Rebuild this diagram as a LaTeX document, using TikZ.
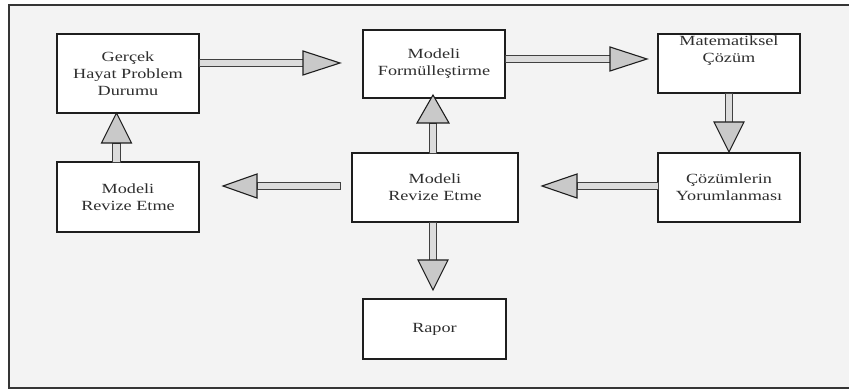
\documentclass[tikz,border=0pt]{standalone}
\usepackage{fontspec}
\setmainfont{Liberation Serif}[FakeStretch=1.3]
\usetikzlibrary{calc}

\definecolor{paper}{HTML}{F3F3F3}
\definecolor{ink}{HTML}{1E1E1E}
\definecolor{textink}{HTML}{2E2E2E}
\definecolor{headfill}{HTML}{C9C9C9}
\definecolor{shaftfill}{HTML}{DCDCDC}

\tikzset{
  stagefont/.style={text=textink, font=\fontsize{14}{17}\selectfont},
  stage/.style={draw=ink, line width=1.6pt, fill=white, inner sep=0pt,
    outer sep=0pt, align=center, stagefont},
  shaftline/.style={draw=ink!85, line width=0.9pt, fill=shaftfill},
  headline/.style={draw=ink, line width=1.1pt, fill=headfill, line join=miter},
}

% block arrow: #1 tail, #2 tip, #3 head length, #4 head half-width
\newcommand\blockarrow[4]{%
  \coordinate (ba-s) at #1;
  \coordinate (ba-t) at #2;
  \coordinate (ba-b) at ($(ba-t)!#3!(ba-s)$);
  \filldraw[shaftline] ($(ba-s)!3.8pt!90:(ba-b)$) -- ($(ba-b)!3.8pt!-90:(ba-s)$)
    -- ($(ba-b)!3.8pt!90:(ba-s)$) -- ($(ba-s)!3.8pt!-90:(ba-b)$) -- cycle;
  \filldraw[headline] ($(ba-b)!#4!90:(ba-t)$) -- (ba-t)
    -- ($(ba-b)!#4!-90:(ba-t)$) -- cycle;
}

\begin{document}
\begin{tikzpicture}[x=1pt, y=-1pt]
  \useasboundingbox (0,0) rectangle (849,390);
  \fill[white] (0,0) rectangle (849,390);
  % outer panel
  \draw[draw=ink!90, line width=1.6pt, fill=paper] (9,5) rectangle (880,388);

  % stages
  \node[stage, minimum width=142pt, minimum height=79pt] (g) at (128,73.5)
    {Gerçek\\Hayat Problem\\Durumu};
  \node[stage, minimum width=142pt, minimum height=68pt] (f) at (434,64)
    {Modeli\\Formülleştirme};
  \node[stage, minimum width=142pt, minimum height=59pt,
    label={[name=mtext, anchor=north, yshift=-1.5pt, inner sep=0pt, align=center,
      stagefont]north:Matematiksel\\Çözüm}]
    (m) at (729,63.5) {};
  \node[stage, minimum width=142pt, minimum height=69pt] (c) at (729,187.5)
    {Çözümlerin\\Yorumlanması};
  \node[stage, minimum width=166pt, minimum height=69pt] (r) at (435,187.5)
    {Modeli\\Revize Etme};
  \node[stage, minimum width=142pt, minimum height=70pt] (l) at (128,197)
    {Modeli\\Revize Etme};
  \node[stage, minimum width=143pt, minimum height=60pt] (p) at (434.5,329)
    {Rapor};

  % flow arrows
  \blockarrow{($(g.east)+(0,-10.5)$)}{($(f.west)+(-23,-1)$)}{37pt}{12pt}
  \blockarrow{($(f.east)+(0,-5)$)}{($(m.west)+(-11,-4.5)$)}{37pt}{12pt}
  \blockarrow{(m.south)}{($(c.north)+(0,-1)$)}{30pt}{15pt}
  \blockarrow{($(c.west)+(0,-1.5)$)}{($(r.east)+(24,-1.5)$)}{35pt}{12pt}
  \blockarrow{($(r.west)+(-12,-1.5)$)}{($(l.east)+(24,-11)$)}{34pt}{12pt}
  \blockarrow{($(l.north)+(-11.5,0)$)}{($(g.south)+(-11.5,0)$)}{30pt}{15pt}
  \blockarrow{($(r.north)+(-2,0)$)}{($(f.south)+(-1,-3)$)}{28pt}{16pt}
  \blockarrow{($(r.south)+(-2,0)$)}{($(p.north)+(-1.5,-9)$)}{30pt}{15pt}
\end{tikzpicture}
\end{document}
